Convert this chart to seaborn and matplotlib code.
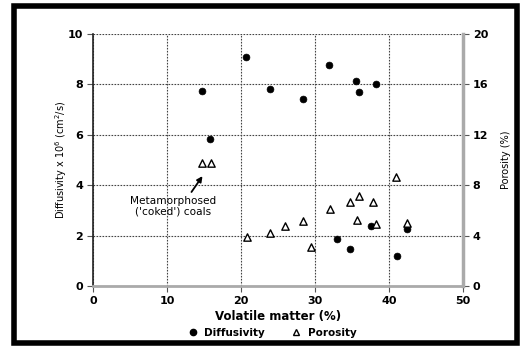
import matplotlib
matplotlib.use("Agg")
import matplotlib.pyplot as plt
import seaborn as sns
import pandas as pd
from matplotlib.patches import Rectangle
from matplotlib.lines import Line2D

# Data
diff_vm = [14.7, 15.8, 20.7, 23.9, 28.4, 31.9, 35.6, 36.0, 38.2, 33.0, 34.7, 41.1, 42.4, 37.6]
diff_val = [7.74, 5.83, 9.07, 7.82, 7.42, 8.76, 8.12, 7.70, 8.02, 1.87, 1.48, 1.19, 2.25, 2.38]

por_vm = [14.7, 16.0, 41.0, 20.8, 23.9, 26.0, 28.4, 29.4, 32.0, 34.7, 36.0, 37.8, 35.7, 38.3, 42.4]
por_val = [9.8, 9.8, 8.65, 3.9, 4.23, 4.78, 5.18, 3.1, 6.08, 6.64, 7.17, 6.67, 5.24, 4.9, 5.03]

x_ticks = [0, 10, 20, 30, 40, 50]
y_ticks = [0, 2, 4, 6, 8, 10]
y2_ticks = [0, 4, 8, 12, 16, 20]

df_d = pd.DataFrame({"vm": diff_vm, "d": diff_val})
df_p = pd.DataFrame({"vm": por_vm, "p": por_val})

sns.set_style("white")
plt.rcParams["font.family"] = ["DejaVu Sans"]
plt.rcParams["text.color"] = "black"
plt.rcParams["axes.labelcolor"] = "black"
plt.rcParams["xtick.color"] = "black"
plt.rcParams["ytick.color"] = "black"

fig = plt.figure(figsize=(5.28, 3.52), dpi=100)
ax = fig.add_axes([0.176, 0.1875, 0.701, 0.716])
ax2 = ax.twinx()

sns.scatterplot(data=df_d, x="vm", y="d", ax=ax, marker="o", color="black",
                s=24, edgecolor="black", linewidth=0.5, zorder=4, legend=False)
sns.scatterplot(data=df_p, x="vm", y="p", ax=ax2, marker="^", facecolor="white",
                s=28, edgecolor="black", linewidth=1.0, zorder=4, legend=False)

ax.set_xlim(0, 50)
ax.set_ylim(0, 10)
ax2.set_ylim(0, 20)
ax.set_xticks(x_ticks)
ax.set_yticks(y_ticks)
ax2.set_yticks(y2_ticks)
ax.set_xticklabels([str(v) for v in x_ticks], fontsize=8, fontweight="bold")
ax.set_yticklabels([str(v) for v in y_ticks], fontsize=8, fontweight="bold")
ax2.set_yticklabels([str(v) for v in y2_ticks], fontsize=8, fontweight="bold")

ax.grid(True, linestyle=(0, (1.5, 1.2)), color="#444444", linewidth=0.8)
ax.set_axisbelow(True)

for a in (ax, ax2):
    a.spines["top"].set_visible(False)
ax.spines["left"].set_color("#222222")
ax.spines["left"].set_linewidth(1.2)
ax.spines["bottom"].set_color("#aaaaaa")
ax.spines["bottom"].set_linewidth(2)
ax2.spines["right"].set_color("#aaaaaa")
ax2.spines["right"].set_linewidth(2.5)
ax2.spines["left"].set_visible(False)
ax2.spines["bottom"].set_visible(False)
ax.spines["right"].set_visible(False)

ax.tick_params(axis="both", direction="out", length=4, width=0.8, color="#555555", pad=3, left=True, bottom=True)
ax2.tick_params(axis="y", direction="out", length=4, width=0.8, color="#555555", pad=3, right=True)

ax.set_xlabel("Volatile matter (%)", fontsize=8.5, fontweight="bold", labelpad=3)
ax.set_ylabel("Diffusivity x 10$^{6}$ (cm$^{2}$/s)", fontsize=7, fontweight="normal", labelpad=-1)
ax2.set_ylabel("Porosity (%)", fontsize=7, fontweight="normal", labelpad=9)

ax.annotate("Metamorphosed\n('coked') coals", xy=(14.8, 4.36), xytext=(10.8, 3.15),
            ha="center", va="center", fontsize=7.6, fontweight="normal", linespacing=1.05,
            arrowprops=dict(arrowstyle="-|>", color="black", lw=1.3, mutation_scale=8,
                            shrinkA=1, shrinkB=0, relpos=(0.68, 1.0)))

handles = [
    Line2D([], [], marker="o", linestyle="none", color="black", markersize=4.5),
    Line2D([], [], marker="^", linestyle="none", markerfacecolor="white",
           markeredgecolor="black", markersize=5),
]
fig.legend(handles, ["Diffusivity", "Porosity"], loc="center", bbox_to_anchor=(0.51, 0.055),
           ncol=2, frameon=False, handletextpad=0.1, columnspacing=2.0,
           prop={"weight": "bold", "size": 7.5})

fig.patches.append(Rectangle((14 / 528, 1 - 343 / 352), (517 - 14) / 528, (343 - 6) / 352,
                             transform=fig.transFigure, fill=False, edgecolor="black",
                             linewidth=4, zorder=10))

fig.savefig("out.png", dpi=100)
